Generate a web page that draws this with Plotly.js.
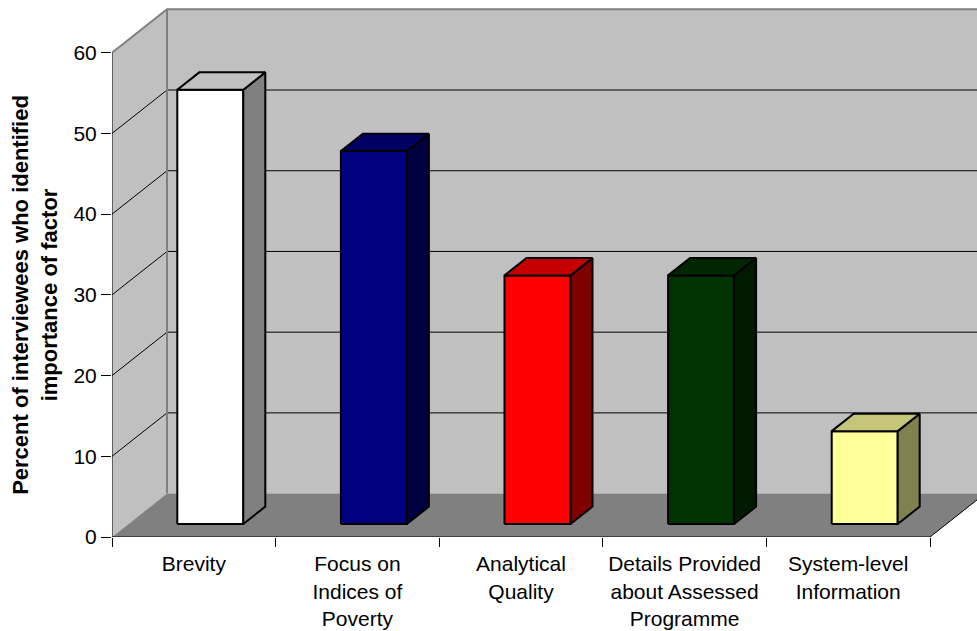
<!DOCTYPE html>
<html>
<head>
<meta charset="utf-8">
<script src="https://cdn.plot.ly/plotly-3.0.1.min.js"></script>
<style>html,body{margin:0;padding:0;background:#fff;}#chart{width:977px;height:631px;}</style>
</head>
<body>
<div id="chart"></div>
<script>
// ---- data ----
const categories = ["Brevity", "Focus on Indices of Poverty", "Analytical Quality", "Details Provided about Assessed Programme", "System-level Information"];
const tickLabels = ["Brevity", "Focus on<br>Indices of<br>Poverty", "Analytical<br>Quality", "Details Provided<br>about Assessed<br>Programme", "System-level<br>Information"];
const values = [53.8, 46.2, 30.8, 30.8, 11.5];
const yTicks = [0, 10, 20, 30, 40, 50, 60];
const yTitle = "Percent of interviewees who identified<br>importance of factor";

// ---- styles ----
const frontColors = ["#FFFFFF", "#000080", "#FF0000", "#003300", "#FFFF99"];
const topColors   = ["#C0C0C0", "#000063", "#C40000", "#002700", "#C6C67A"];
const sideColors  = ["#808080", "#000040", "#800000", "#001A00", "#808050"];

// ---- geometry (layout constants) ----
const X_MAX = 5.2873, Y_MAX = 66.53;
const DX = 0.3362, DY = 5.377;      // full depth offset in axis units
const F1 = 0.3, F2 = 0.7;            // bar front/back depth fractions
const BW = 0.4034;                   // bar width in category units
const XR = 7;                        // beyond right edge (clipped)
const yTop = yTicks[yTicks.length - 1];
const nCat = categories.length;

const traces = [];
function poly(xs, ys, fill, lc, lw) {
  traces.push({type: 'scatter', mode: 'lines', x: xs.concat([xs[0]]), y: ys.concat([ys[0]]),
    fill: 'toself', fillcolor: fill, line: {color: lc || fill, width: lw || 0},
    hoverinfo: 'skip', showlegend: false});
}
function line(xs, ys, color, width, axis) {
  const t = {type: 'scatter', mode: 'lines', x: xs, y: ys, line: {color: color, width: width},
    hoverinfo: 'skip', showlegend: false};
  if (axis) t.xaxis = axis;
  traces.push(t);
}

// walls
poly([0, 0, DX, DX], [0, yTop, yTop + DY, DY], '#C0C0C0');
poly([DX, DX, XR, XR], [DY, yTop + DY, yTop + DY, DY], '#C0C0C0');
// gridlines
yTicks.forEach(v => {
  if (v === 0 || v === yTop) return;
  line([0, DX, XR], [v, v + DY, v + DY], '#000000', 1);
});
// floor
poly([0, DX, nCat + DX, nCat], [0, DY, DY, 0], '#808080');
line([nCat, nCat + DX], [0, DY], '#000000', 1);
// wall edges
line([DX, DX], [DY, yTop + DY], '#808080', 2);
line([0, DX, XR], [yTop, yTop + DY, yTop + DY], '#808080', 2);

// bars
values.forEach((v, i) => {
  const c = i + 0.5;
  const xl = c - BW / 2 + F1 * DX, xr = c + BW / 2 + F1 * DX;
  const yb = F1 * DY, yt = v + F1 * DY;
  const ox = (F2 - F1) * DX, oy = (F2 - F1) * DY;
  poly([xl, xr, xr, xl], [yb, yb, yt, yt], frontColors[i], '#000000', 2);
  poly([xr, xr + ox, xr + ox, xr], [yb, yb + oy, yt + oy, yt], sideColors[i], '#000000', 2);
  poly([xl, xr, xr + ox, xl + ox], [yt, yt, yt + oy, yt + oy], topColors[i], '#000000', 2);
});

// axis lines
line([0, nCat], [0, 0], '#000000', 1, 'x2');
line([0, 0], [0, yTop], '#000000', 1, 'x2');

const font = {family: 'Liberation Sans, Arial, sans-serif', size: 21, color: '#000000'};
const layout = {
  width: 977, height: 631,
  margin: {l: 112, r: 0, t: 0, b: 94, pad: 0},
  paper_bgcolor: '#FFFFFF', plot_bgcolor: '#FFFFFF',
  font: font,
  showlegend: false,
  xaxis: {range: [0, X_MAX], tickvals: categories.map((_, i) => i + 0.5), ticktext: tickLabels,
    ticks: 'outside', ticklen: 8, tickcolor: 'rgba(0,0,0,0)', showgrid: false, zeroline: false,
    showline: false, tickfont: font, fixedrange: true},
  xaxis2: {range: [0, X_MAX], overlaying: 'x', anchor: 'y', side: 'bottom',
    tickvals: categories.map((_, i) => i).concat([nCat]), ticks: 'outside', ticklen: 9,
    tickcolor: '#000000', tickwidth: 1, showticklabels: false, showgrid: false, zeroline: false,
    showline: false, fixedrange: true},
  yaxis: {range: [0, Y_MAX], tickvals: yTicks, ticks: 'outside', ticklen: 10, tickcolor: '#000000',
    tickwidth: 1, showgrid: false, zeroline: false, showline: false, tickfont: font, fixedrange: true},
  annotations: [{text: '<b>' + yTitle + '</b>', textangle: -90, xref: 'paper', yref: 'y',
    x: (6 - 112) / 865, xanchor: 'left', y: yTop / 2, yanchor: 'middle', showarrow: false,
    font: {family: 'Liberation Sans, Arial, sans-serif', size: 22, color: '#000000'}}]
};
Plotly.newPlot('chart', traces, layout, {displayModeBar: false, staticPlot: true});
</script>
</body>
</html>
